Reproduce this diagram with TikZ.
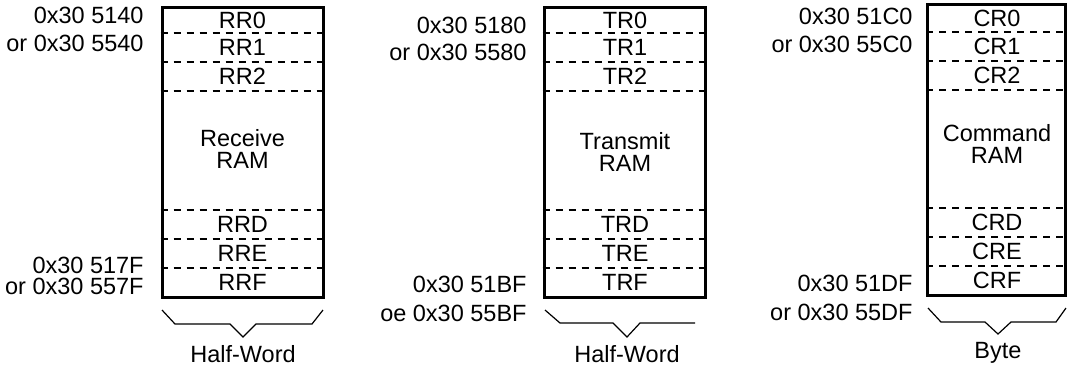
\documentclass[tikz,border=0pt]{standalone}
\usepackage{fontspec}
\setmainfont{Liberation Sans}
\usetikzlibrary{positioning}
\tikzset{
  ram/.style={draw, line width=1.5pt, inner sep=0pt, minimum height=145pt},
  slot/.style={inner sep=0pt},
  split/.style={line width=0.75pt, dash pattern=on 3.5pt off 3pt},
  addr/.style={anchor=east, inner sep=0pt},
  brace/.style={line width=0.6pt},
  unit/.style={inner sep=0pt, below=4pt of #1}
}

\begin{document}
\begin{tikzpicture}[x=0.5pt, y=-0.5pt, font=\fontsize{11.75}{11}\selectfont]
  \useasboundingbox (0,0) rectangle (1067,366);

  % receive RAM
  \node[ram, minimum width=80.5pt] (rx) at (242.5,152) {};
  \foreach \y in {33,62,91,210,239,268}
    \draw[split] (rx.west |- 0,\y) -- (rx.east |- 0,\y);
  \foreach \n/\y in {0/20,1/47.5,2/76.5,D/224.5,E/253.5,F/282.5}
    \node[slot] (rr\n) at (242.5,\y) {RR\n};
  \node[slot, align=center] (rxname) at (242.5,149) {Receive\\RAM};
  \node[addr] (rxfirst) at (144,15) {0x30 5140};
  \node[addr] (rxfirstalt) at (144,43) {or 0x30 5540};
  \node[addr] (rxlast) at (144,265) {0x30 517F};
  \node[addr] (rxlastalt) at (144,286) {or 0x30 557F};
  \coordinate (rxtip) at (243,337);
  \draw[brace] (162,310) -- (175,324) -- (230,324) -- (rxtip) -- (256,324) -- (312,324) -- (323,310);
  \node[unit=rxtip] (rxunit) {Half-Word};

  % transmit RAM
  \node[ram, minimum width=80.5pt] (tx) at (624.5,152) {};
  \foreach \y in {33,62,91,210,239,268}
    \draw[split] (tx.west |- 0,\y) -- (tx.east |- 0,\y);
  \foreach \n/\y in {0/20,1/47.5,2/76.5,D/224.5,E/253.5,F/282.5}
    \node[slot] (tr\n) at (625,\y) {TR\n};
  \node[slot, align=center] (txname) at (625,152) {Transmit\\RAM};
  \node[addr] (txfirst) at (527,25) {0x30 5180};
  \node[addr] (txfirstalt) at (527,52) {or 0x30 5580};
  \node[addr] (txlast) at (527,284) {0x30 51BF};
  \node[addr] (txlastalt) at (527,313) {oe 0x30 55BF};
  \coordinate (txtip) at (627,337);
  \draw[brace] (545,310) -- (560,323) -- (613,323) -- (txtip) -- (640,323) -- (695,323);
  \node[unit=txtip] (txunit) {Half-Word};

  % command RAM
  \node[ram, minimum width=69pt, minimum height=145.5pt] (cx) at (996.5,149.5) {};
  \foreach \y in {32,61,90,208,237,266}
    \draw[split] (cx.west |- 0,\y) -- (cx.east |- 0,\y);
  \foreach \n/\y in {0/18,1/46.5,2/75.5,D/222.5,E/251.5,F/280.5}
    \node[slot] (cr\n) at (997,\y) {CR\n};
  \node[slot, align=center] (cxname) at (997,144) {Command\\RAM};
  \node[addr] (cxfirst) at (913,16) {0x30 51C0};
  \node[addr] (cxfirstalt) at (913,44) {or 0x30 55C0};
  \node[addr] (cxlast) at (913,283) {0x30 51DF};
  \node[addr] (cxlastalt) at (913,312) {or 0x30 55DF};
  \coordinate (cxtip) at (998,334);
  \draw[brace] (928,308) -- (941,322) -- (985,322) -- (cxtip) -- (1011,322) -- (1056,322) -- (1066,308);
  \node[unit=cxtip] (cxunit) {Byte};
\end{tikzpicture}
\end{document}
